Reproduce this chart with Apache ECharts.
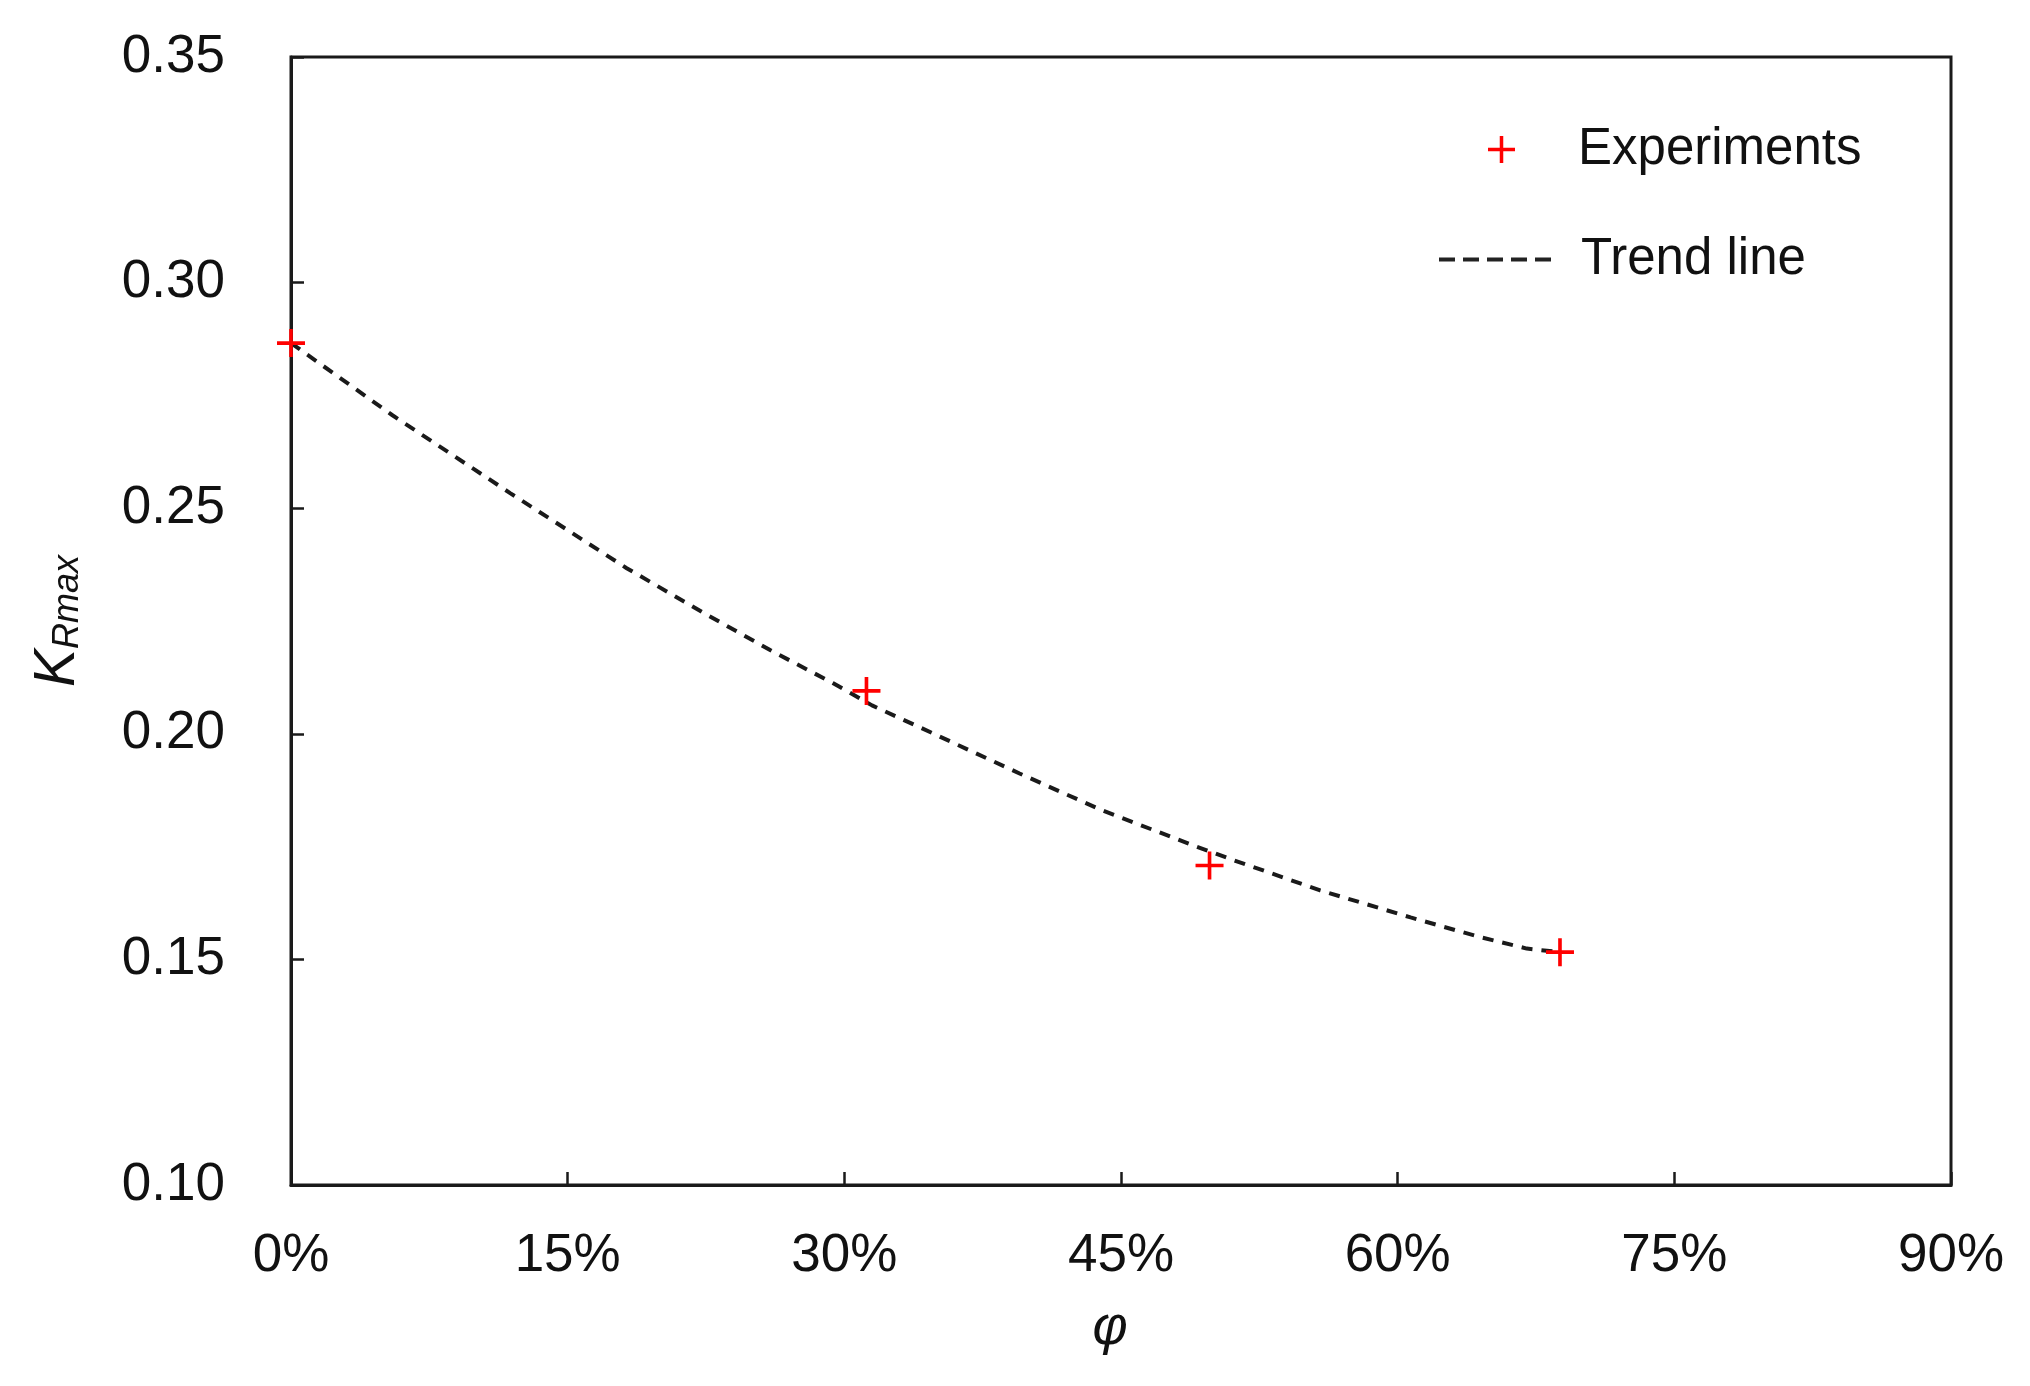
<!DOCTYPE html>
<html>
<head>
<meta charset="utf-8">
<script src="https://cdn.jsdelivr.net/npm/echarts@6/dist/echarts.min.js"></script>
<style>
html,body{margin:0;padding:0;background:#fff;}
#chart{width:2030px;height:1386px;}
</style>
</head>
<body>
<div id="chart"></div>
<script>
// Experimental points (phi in %, K_Rmax)
const expPhi = [0, 31.2, 49.8, 68.8];
const expK = [0.2866, 0.2095, 0.1708, 0.1516];

// Trend line
const trendPhi = [0, 5.5, 11.9, 18.2, 22.5, 26.0, 29.4, 31.5, 34.8, 39.5, 44.0, 48.9, 51.1, 55.8, 60.7, 64.5, 67.0, 68.8];
const trendK = [0.2866, 0.2706, 0.2533, 0.2367, 0.2265, 0.2185, 0.2112, 0.2063, 0.2001, 0.1912, 0.1830, 0.1753, 0.1720, 0.1653, 0.1593, 0.1549, 0.1524, 0.1516];

// Axis ticks
const xTicks = [0, 15, 30, 45, 60, 75, 90];
const yTicks = [0.10, 0.15, 0.20, 0.25, 0.30, 0.35];

const FONT = 'Liberation Sans, Arial, sans-serif';
const PLUS = 'path://M-1,-0.13H1V0.13H-1Z M-0.13,-1H0.13V1H-0.13Z';

const chart = echarts.init(document.getElementById('chart'), null, {renderer: 'canvas'});
chart.setOption({
  animation: false,
  backgroundColor: '#ffffff',
  grid: {
    left: 291, right: 79, top: 57, bottom: 201,
    show: true, borderColor: '#1a1a1a', borderWidth: 3, backgroundColor: 'transparent'
  },
  legend: [
    {
      data: [{name: 'Experiments', icon: PLUS}],
      left: 1488, top: 124, padding: 0,
      itemWidth: 27, itemHeight: 27,
      textStyle: {fontFamily: FONT, fontSize: 51, color: '#111', padding: [0, 0, 0, 58]}
    },
    {
      data: [{name: 'Trend line', itemStyle: {opacity: 0}, lineStyle: {type: [16, 8], width: 4, color: '#222'}}],
      left: 1437, top: 234, padding: 0,
      itemWidth: 117, itemHeight: 14,
      textStyle: {fontFamily: FONT, fontSize: 51, color: '#111', padding: [0, 0, 0, 20]}
    }
  ],
  xAxis: {
    type: 'value',
    min: xTicks[0], max: xTicks[xTicks.length - 1], interval: 15,
    name: 'φ',
    nameLocation: 'middle',
    nameGap: 117,
    nameTextStyle: {fontFamily: FONT, fontSize: 54, fontStyle: 'italic', color: '#111', padding: [0, 22, 0, 0]},
    axisLine: {show: true, onZero: false, lineStyle: {color: '#1a1a1a', width: 3}},
    axisTick: {show: true, inside: true, length: 13, lineStyle: {color: '#1a1a1a', width: 2.5}},
    axisLabel: {
      margin: 45, fontFamily: FONT, fontSize: 53, color: '#111',
      formatter: v => v + '%'
    },
    splitLine: {show: false}
  },
  yAxis: {
    type: 'value',
    min: yTicks[0], max: yTicks[yTicks.length - 1], interval: 0.05,
    name: '{k|K}{s|Rmax}',
    nameLocation: 'middle',
    nameRotate: 90,
    nameGap: 205,
    nameTextStyle: {
      color: '#111',
      padding: [0, 0, 0, 0],
      rich: {
        k: {fontFamily: FONT, fontSize: 57, fontStyle: 'italic', color: '#111', lineHeight: 56},
        s: {fontFamily: FONT, fontSize: 36, fontStyle: 'italic', color: '#111', lineHeight: 16, verticalAlign: 'bottom'}
      }
    },
    axisLine: {show: true, onZero: false, lineStyle: {color: '#1a1a1a', width: 3}},
    axisTick: {show: true, inside: true, length: 13, lineStyle: {color: '#1a1a1a', width: 2.5}},
    axisLabel: {
      margin: 66, fontFamily: FONT, fontSize: 53, color: '#111',
      padding: [8, 0, 0, 0],
      formatter: v => v.toFixed(2)
    },
    splitLine: {show: false}
  },
  series: [
    {
      name: 'Trend line',
      type: 'line',
      data: trendPhi.map((p, i) => [p, trendK[i]]),
      showSymbol: false,
      symbol: 'none',
      smooth: false,
      lineStyle: {color: '#1a1a1a', width: 4, type: [11, 9]},
      itemStyle: {color: '#1a1a1a'},
      z: 2
    },
    {
      name: 'Experiments',
      type: 'scatter',
      data: expPhi.map((p, i) => [p, expK[i]]),
      symbol: PLUS,
      symbolSize: 28,
      itemStyle: {color: '#ff0000', opacity: 1},
      z: 3
    }
  ]
});
</script>
</body>
</html>
